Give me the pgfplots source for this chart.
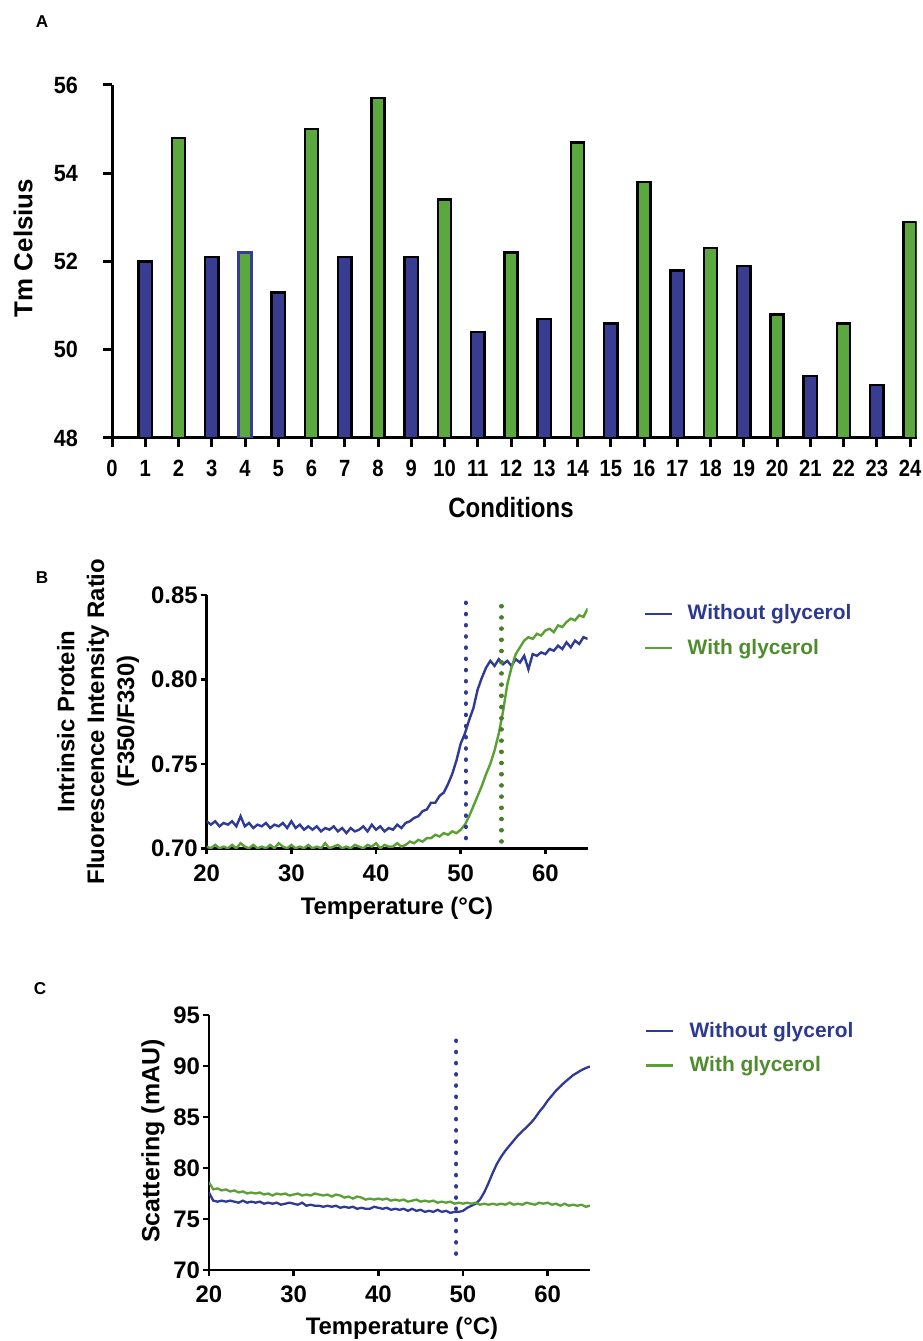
\documentclass[border=0pt]{standalone}
\usepackage{fontspec}
\setmainfont{Liberation Sans}
\newfontfamily\condfont{Liberation Sans}[FakeStretch=0.86]
\newfontfamily\semicondfont{Liberation Sans}[FakeStretch=0.92]
\usepackage{pgfplots}
\pgfplotsset{compat=1.18}
\definecolor{bbar}{RGB}{56,61,146}
\definecolor{gbar}{RGB}{91,168,63}
\definecolor{bline}{RGB}{46,58,147}
\definecolor{gline}{RGB}{90,160,52}
\definecolor{btext}{RGB}{43,57,144}
\definecolor{gtext}{RGB}{78,140,45}
\pgfplotsset{
  curvestyle/.style={
    axis x line*=bottom, axis y line*=left,
    axis line style={line width=1.3bp, -},
    tick align=outside, major tick length=3bp,
    tick style={line width=1.3bp, black},
    /pgf/number format/assume math mode=true,
    ticklabel style={font=\fontsize{12}{14}\selectfont\bfseries},
    yticklabel style={xshift=2bp},
    xticklabel style={yshift=-1.5bp},
    scale only axis, width=190.5bp,
    xmin=20, xmax=65, xtick={20,30,40,50,60},
    legend cell align=left,
    legend image code/.code={\draw[#1, line width=1.2bp] (0bp,0bp) -- (13.5bp,0bp);},
    legend style={draw=none, fill=none, inner sep=0pt, anchor=north west,
      font=\fontsize{10.5}{12}\selectfont\bfseries, row sep=5bp,
      nodes={inner sep=1.5bp},
      /tikz/every odd column/.append style={column sep=6bp}},
  },
  dotline/.style={line width=2.2bp, line cap=round, dash pattern=on 0.1bp off 5.5bp, forget plot},
}
\begin{document}
\begin{tikzpicture}
\path[use as bounding box] (0,0) rectangle (461.5bp,670.5bp);

% ---------------- Panel A ----------------
\begin{axis}[
  at={(56bp,451.5bp)}, anchor=south west,
  scale only axis, width=402.35bp, height=176.5bp,
  xmin=0, xmax=24.2, ymin=48, ymax=56,
  axis x line*=bottom, axis y line*=left,
  axis line style={line width=1.5bp, -},
  xtick={0,...,24}, ytick={48,50,52,54,56},
  tick align=outside, major tick length=4.5bp,
  tick style={line width=1.5bp, black},
  /pgf/number format/assume math mode=true,
  yticklabel style={font=\semicondfont\fontsize{11.8}{13}\selectfont\bfseries, xshift=-9bp},
  xticklabel style={font=\condfont\fontsize{11.8}{13}\selectfont\bfseries, yshift=-3bp},
  ybar, bar width=6.6bp,
]
\addplot[bar shift=0pt, fill=bbar, draw=black, line width=1.25bp] coordinates {
 (1,52.0) (3,52.1) (5,51.3) (7,52.1) (9,52.1) (11,50.4) (13,50.7) (15,50.6)
 (17,51.8) (19,51.9) (21,49.4) (23,49.2)};
\addplot[bar shift=0pt, fill=gbar, draw=black, line width=1.25bp] coordinates {
 (2,54.8) (6,55.0) (8,55.7) (10,53.4) (12,52.2) (14,54.7) (16,53.8) (18,52.3)
 (20,50.8) (22,50.6) (24,52.9)};
\addplot[bar shift=0pt, fill=gbar, draw=bbar, line width=1.25bp] coordinates {(4,52.2)};
\end{axis}
\node[font=\fontsize{8.6}{10}\selectfont\bfseries] at (21bp,659.5bp) {A};
\node[rotate=90, font=\fontsize{13}{15}\selectfont\bfseries] at (11.5bp,546.5bp) {Tm Celsius};
\node[font=\condfont\fontsize{14}{16}\selectfont\bfseries] at (255.5bp,416.5bp) {Conditions};

% ---------------- Panel B ----------------
\begin{axis}[
  curvestyle,
  at={(103.35bp,246.35bp)}, anchor=south west,
  height=126.65bp,
  ymin=0.70, ymax=0.85, ytick={0.70,0.75,0.80,0.85},
  yticklabel style={/pgf/number format/.cd, fixed, fixed zerofill, precision=2},
  legend style={at={(axis description cs:1.145,0.975)}},
]
\addplot[bline, line width=1.2bp] coordinates {
(20,0.716)(20.5,0.714)(21,0.716)(21.5,0.713)(22,0.715)(22.5,0.714)(23,0.716)(23.5,0.713)(24,0.719)(24.5,0.713)
(25,0.715)(25.5,0.712)(26,0.714)(26.5,0.713)(27,0.715)(27.5,0.712)(28,0.714)(28.5,0.713)(29,0.715)(29.5,0.712)
(30,0.716)(30.5,0.712)(31,0.714)(31.5,0.711)(32,0.713)(32.5,0.711)(33,0.713)(33.5,0.710)(34,0.712)(34.5,0.711)
(35,0.713)(35.5,0.710)(36,0.712)(36.5,0.709)(37,0.712)(37.5,0.710)(38,0.711)(38.5,0.713)(39,0.710)(39.5,0.714)
(40,0.711)(40.5,0.713)(41,0.710)(41.5,0.712)(42,0.711)(42.5,0.714)(43,0.712)(43.5,0.715)(44,0.716)(44.5,0.718)
(45,0.719)(45.5,0.722)(46,0.723)(46.5,0.727)(47,0.727)(47.5,0.731)(48,0.733)(48.5,0.738)(49,0.744)(49.5,0.752)
(50,0.762)(50.5,0.768)(51,0.776)(51.5,0.783)(52,0.794)(52.5,0.801)(53,0.807)(53.5,0.811)(54,0.808)(54.5,0.812)
(55,0.809)(55.5,0.811)(56,0.808)(56.5,0.812)(57,0.810)(57.5,0.814)(58,0.806)(58.5,0.815)(59,0.814)(59.5,0.816)
(60,0.815)(60.5,0.818)(61,0.817)(61.5,0.820)(62,0.818)(62.5,0.822)(63,0.819)(63.5,0.823)(64,0.821)(64.5,0.825)
(65,0.824)};
\addlegendentry{\textcolor{btext}{Without glycerol}}
\addplot[gline, line width=1.2bp] coordinates {
(20,0.701)(20.5,0.700)(21,0.702)(21.5,0.700)(22,0.701)(22.5,0.700)(23,0.702)(23.5,0.700)(24,0.703)(24.5,0.701)
(25,0.700)(25.5,0.702)(26,0.700)(26.5,0.701)(27,0.700)(27.5,0.702)(28,0.700)(28.5,0.703)(29,0.701)(29.5,0.700)
(30,0.702)(30.5,0.700)(31,0.701)(31.5,0.700)(32,0.702)(32.5,0.700)(33,0.701)(33.5,0.700)(34,0.703)(34.5,0.700)
(35,0.701)(35.5,0.702)(36,0.700)(36.5,0.701)(37,0.700)(37.5,0.702)(38,0.701)(38.5,0.700)(39,0.702)(39.5,0.701)
(40,0.703)(40.5,0.700)(41,0.702)(41.5,0.701)(42,0.701)(42.5,0.703)(43,0.701)(43.5,0.702)(44,0.704)(44.5,0.703)
(45,0.705)(45.5,0.704)(46,0.706)(46.5,0.706)(47,0.708)(47.5,0.707)(48,0.709)(48.5,0.708)(49,0.710)(49.5,0.709)
(50,0.711)(50.5,0.714)(51,0.719)(51.5,0.725)(52,0.731)(52.5,0.737)(53,0.744)(53.5,0.750)(54,0.758)(54.5,0.768)
(55,0.781)(55.5,0.797)(56,0.807)(56.5,0.815)(57,0.819)(57.5,0.823)(58,0.825)(58.5,0.824)(59,0.827)(59.5,0.826)
(60,0.829)(60.5,0.830)(61,0.828)(61.5,0.832)(62,0.831)(62.5,0.834)(63,0.836)(63.5,0.835)(64,0.838)(64.5,0.837)
(65,0.842)};
\addlegendentry{\textcolor{gtext}{With glycerol}}
\addplot[bline, dotline] coordinates {(50.6,0.706) (50.6,0.849)};
\addplot[gline!80!black, dotline] coordinates {(54.8,0.704) (54.8,0.847)};
\end{axis}
\node[font=\fontsize{8.6}{10}\selectfont\bfseries] at (21bp,381.5bp) {B};
\node[rotate=90, align=center, font=\fontsize{12}{15}\selectfont\bfseries] at (49bp,309.75bp)
  {Intrinsic Protein\\Fluorescence Intensity Ratio\\(F350/F330)};
\node[font=\fontsize{12}{14}\selectfont\bfseries] at (198.5bp,216.5bp) {Temperature (°C)};

% ---------------- Panel C ----------------
\begin{axis}[
  curvestyle,
  at={(104.5bp,35.5bp)}, anchor=south west,
  height=127.5bp,
  ymin=70, ymax=95, ytick={70,75,80,85,90,95},
  legend style={at={(axis description cs:1.144,0.985)}},
]
\addplot[bline, line width=1.15bp] coordinates {
(20,77.6)(20.5,76.8)(21,76.7)(21.5,76.8)(22,76.7)(22.5,76.8)(23,76.7)(23.5,76.6)(24,76.8)(24.5,76.6)
(25,76.7)(25.5,76.6)(26,76.7)(26.5,76.5)(27,76.6)(27.5,76.5)(28,76.6)(28.5,76.4)(29,76.5)(29.5,76.6)
(30,76.5)(30.5,76.4)(31,76.6)(31.5,76.3)(32,76.4)(32.5,76.3)(33,76.3)(33.5,76.2)(34,76.3)(34.5,76.2)
(35,76.3)(35.5,76.1)(36,76.2)(36.5,76.1)(37,76.2)(37.5,76.0)(38,76.1)(38.5,76.0)(39,76.0)(39.5,76.2)
(40,76.1)(40.5,76.0)(41,76.1)(41.5,75.9)(42,76.0)(42.5,75.9)(43,76.0)(43.5,75.8)(44,76.0)(44.5,75.8)
(45,75.9)(45.5,75.7)(46,75.8)(46.5,75.7)(47,75.9)(47.5,75.7)(48,75.8)(48.5,75.6)(49,75.7)(49.5,75.7)
(50,75.8)(50.5,76.1)(51,76.3)(51.5,76.5)(52,76.9)(52.5,77.6)(53,78.5)(53.5,79.5)(54,80.4)(54.5,81.1)
(55,81.7)(55.5,82.2)(56,82.7)(56.5,83.2)(57,83.6)(57.5,84.0)(58,84.4)(58.5,84.9)(59,85.5)(59.5,86.0)
(60,86.6)(60.5,87.1)(61,87.6)(61.5,88.0)(62,88.4)(62.5,88.75)(63,89.1)(63.5,89.35)(64,89.6)(64.5,89.8)
(65,89.95)};
\addlegendentry{\textcolor{btext}{Without glycerol}}
\addplot[gline, line width=1.15bp] coordinates {
(20,78.6)(20.5,77.9)(21,78.0)(21.5,77.8)(22,77.9)(22.5,77.7)(23,77.8)(23.5,77.6)(24,77.7)(24.5,77.5)
(25,77.6)(25.5,77.5)(26,77.6)(26.5,77.4)(27,77.5)(27.5,77.3)(28,77.5)(28.5,77.4)(29,77.5)(29.5,77.3)
(30,77.4)(30.5,77.5)(31,77.3)(31.5,77.4)(32,77.3)(32.5,77.5)(33,77.4)(33.5,77.3)(34,77.4)(34.5,77.2)
(35,77.4)(35.5,77.3)(36,77.1)(36.5,77.2)(37,77.0)(37.5,77.2)(38,77.1)(38.5,76.9)(39,77.0)(39.5,76.9)
(40,77.0)(40.5,76.9)(41,77.0)(41.5,76.8)(42,76.9)(42.5,76.8)(43,76.9)(43.5,76.7)(44,76.8)(44.5,76.9)
(45,76.7)(45.5,76.8)(46,76.7)(46.5,76.8)(47,76.6)(47.5,76.7)(48,76.6)(48.5,76.7)(49,76.5)(49.5,76.6)
(50,76.5)(50.5,76.6)(51,76.5)(51.5,76.6)(52,76.4)(52.5,76.5)(53,76.4)(53.5,76.5)(54,76.4)(54.5,76.5)
(55,76.4)(55.5,76.6)(56,76.4)(56.5,76.5)(57,76.4)(57.5,76.6)(58,76.5)(58.5,76.4)(59,76.6)(59.5,76.5)
(60,76.6)(60.5,76.4)(61,76.5)(61.5,76.3)(62,76.5)(62.5,76.3)(63,76.4)(63.5,76.3)(64,76.4)(64.5,76.2)
(65,76.3)};
\addlegendentry{\textcolor{gtext}{With glycerol}}
\addplot[bline, dotline] coordinates {(49.2,71.6) (49.2,93.0)};
\end{axis}
\node[font=\fontsize{8.6}{10}\selectfont\bfseries] at (20bp,176bp) {C};
\node[rotate=90, font=\fontsize{12.5}{14}\selectfont\bfseries] at (76.5bp,100bp) {Scattering (mAU)};
\node[font=\fontsize{12}{14}\selectfont\bfseries] at (201bp,6.5bp) {Temperature (°C)};
\end{tikzpicture}
\end{document}
